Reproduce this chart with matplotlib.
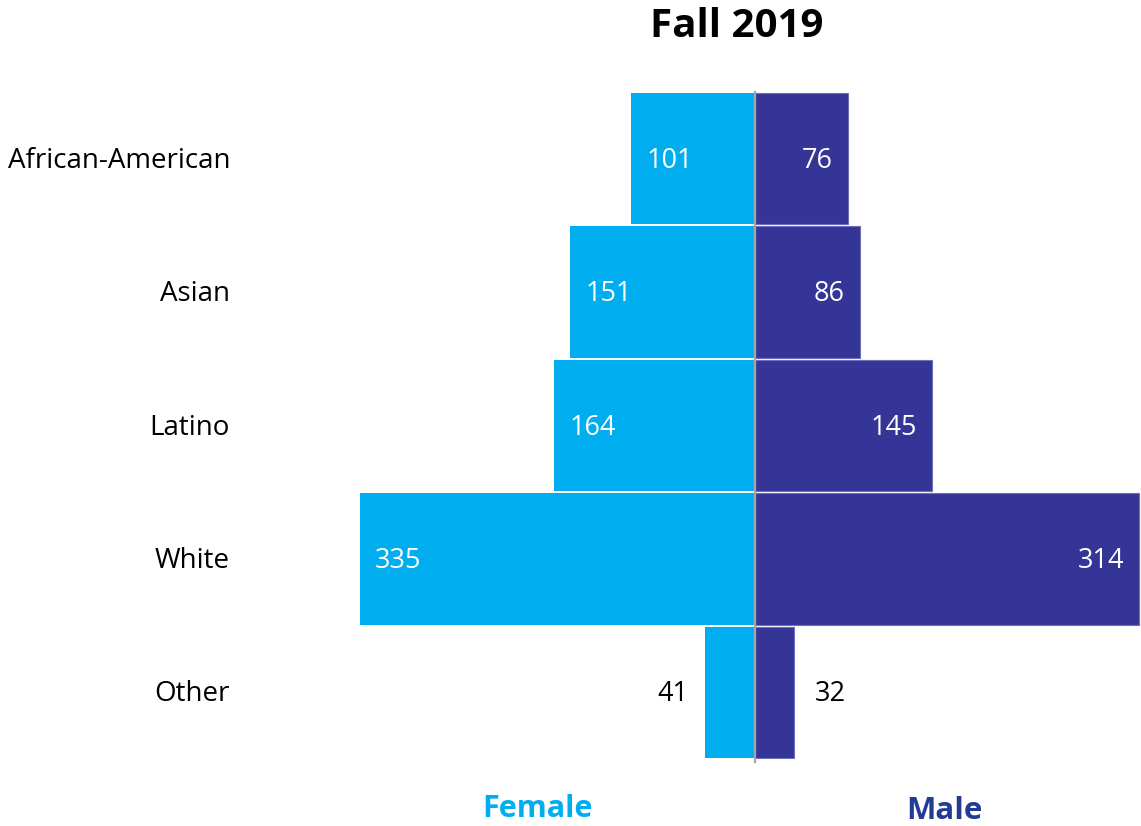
import matplotlib
matplotlib.use("Agg")
import matplotlib.pyplot as plt

categories = ["African-American", "Asian", "Latino", "White", "Other"]
female = [101, 151, 164, 335, 41]
male = [76, 86, 145, 314, 32]
title = "Fall 2019"

FEMALE_C = "#00AEEF"
MALE_C = "#353597"
FONT = ["Open Sans", "DejaVu Sans"]

W, H = 1141, 826
fig = plt.figure(figsize=(W / 100, H / 100), dpi=100)
left_px, right_px, top_px, bot_px = 360, 1141, 92, 759
ax = fig.add_axes([left_px / W, 1 - bot_px / H, (right_px - left_px) / W, (bot_px - top_px) / H])

xmin, xmax = -322.4, 315.3
y = list(range(len(categories)))
ax.barh(y, [-v for v in female], height=0.985, color=FEMALE_C, left=0)
ax.barh(y, male, height=0.985, color=MALE_C, edgecolor="#6F6FC0", linewidth=0.8)
ax.set_xlim(xmin, xmax)
ax.set_ylim(len(categories) - 0.5, -0.5)
ax.axvline(0, color="#A6A6A6", lw=1.6, ymin=-0.005, ymax=1, clip_on=False)
ax.axis("off")

NUM_FS = 19.5
DY = -1.5
for i, (f, m) in enumerate(zip(female, male)):
    fx = max(-f, xmin)
    if f > 45:
        ax.annotate(str(f), (fx, i), xytext=(11, DY), textcoords="offset points",
                    ha="left", va="center", color="white", fontsize=NUM_FS, family=FONT)
    else:
        ax.annotate(str(f), (fx, i), xytext=(-12, DY), textcoords="offset points",
                    ha="right", va="center", color="black", fontsize=NUM_FS, family=FONT)
    if m > 45:
        ax.annotate(str(m), (m, i), xytext=(-11, DY), textcoords="offset points",
                    ha="right", va="center", color="white", fontsize=NUM_FS, family=FONT)
    else:
        ax.annotate(str(m), (m, i), xytext=(15, DY), textcoords="offset points",
                    ha="left", va="center", color="black", fontsize=NUM_FS, family=FONT)
    ax.annotate(categories[i], (xmin, i), xytext=(-130 / 1.389, DY), textcoords="offset points",
                ha="right", va="center", color="black", fontsize=20, family=FONT)

fig.text(737 / W, 1 - 37 / H, title, ha="center", va="baseline", fontsize=29,
         fontweight="bold", family=FONT)
fig.text(537 / W, 1 - 817 / H, "Female", ha="center", va="baseline", fontsize=22,
         fontweight="bold", color=FEMALE_C, family=FONT)
fig.text(944 / W, 1 - 819 / H, "Male", ha="center", va="baseline", fontsize=22.5,
         fontweight="bold", color="#223C94", family=FONT)

fig.savefig("out.png", dpi=100)
